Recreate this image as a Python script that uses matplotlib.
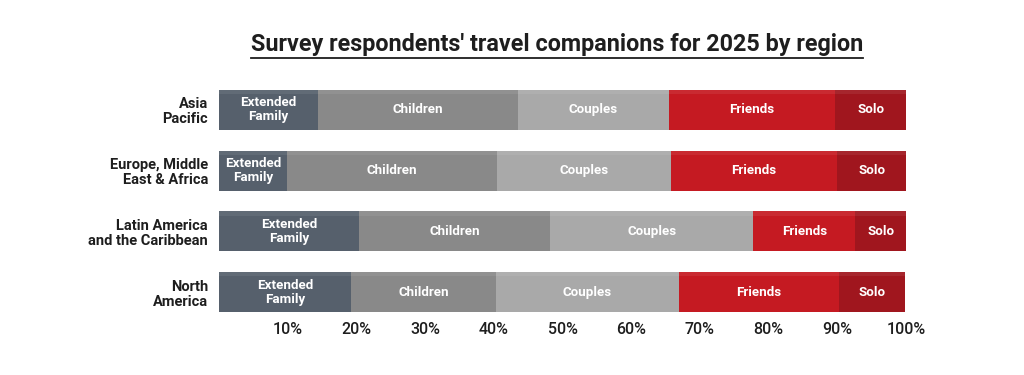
import numpy as np
import matplotlib.pyplot as plt

plt.rcParams['font.family'] = ['Roboto', 'DejaVu Sans']

regions = ['Asia\nPacific', 'Europe, Middle\nEast & Africa',
           'Latin America\nand the Caribbean', 'North\nAmerica']
groups = ['Extended\nFamily', 'Children', 'Couples', 'Friends', 'Solo']
ext_family = [14.4, 9.9, 20.4, 19.2]
children = [29.1, 30.6, 27.8, 21.1]
couples = [22.0, 25.3, 29.6, 26.6]
friends = [24.2, 24.2, 14.8, 23.3]
solo = [10.3, 10.0, 7.4, 9.7]
ticks = [10, 20, 30, 40, 50, 60, 70, 80, 90, 100]
tick_labels = ['10%', '20%', '30%', '40%', '50%', '60%', '70%', '80%', '90%', '100%']

colors = ['#56606c', '#898989', '#a9a9a9', '#c51a22', '#a0161e']

fig = plt.figure(figsize=(10.24, 3.75), dpi=100)
ax = fig.add_axes([219/1024, 1-322.5/375, 687/1024, 243/375])

y = np.arange(len(regions))
h = 0.66
left = np.zeros(len(regions))
for vals, name, col in zip([ext_family, children, couples, friends, solo], groups, colors):
    vals = np.array(vals)
    ax.barh(y, vals, left=left, height=h, color=col, edgecolor='none')
    # faint light strip along the top of each bar
    ax.barh(y - h/2 + 0.035, vals, left=left, height=0.07, color='white', alpha=0.07, edgecolor='none')
    for yi, l, v in zip(y, left, vals):
        ax.text(l + v/2, yi, name, ha='center', va='center', color='white',
                fontsize=9.6, fontweight='bold', linespacing=1.1)
    left += vals

ax.set_xlim(0, 100)
ax.set_ylim(3.5, -0.5)
ax.set_yticks(y)
ax.set_yticklabels(regions, fontsize=10.5, fontweight='bold', color='#1e1e1e', linespacing=1.1)
ax.set_xticks(ticks)
ax.set_xticklabels(tick_labels, fontsize=11.5, fontweight='medium', color='#1e1e1e')
ax.tick_params(length=0, axis='x', pad=0)
ax.tick_params(length=0, axis='y', pad=8)
for s in ax.spines.values():
    s.set_visible(False)

t = fig.text(557/1024, 1-45/375, "Survey respondents' travel companions for 2025 by region",
             ha='center', va='center', fontsize=16.8, fontweight='bold', color='#1e1e1e')
fig.canvas.draw()
bb = t.get_window_extent()
fig.add_artist(plt.Line2D([bb.x0/1024, bb.x1/1024], [(bb.y0 - 1)/375, (bb.y0 - 1)/375],
                          color='#1e1e1e', lw=1.3))

plt.savefig('out.png', dpi=100)
